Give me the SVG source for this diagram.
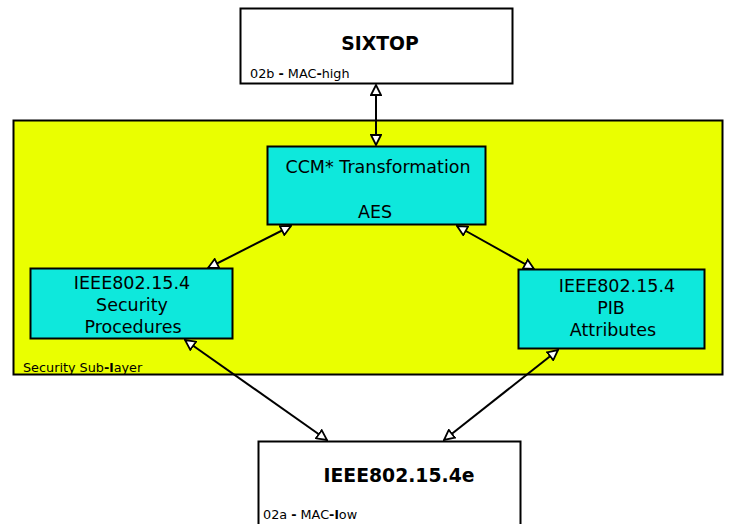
<svg xmlns="http://www.w3.org/2000/svg" width="729" height="524" viewBox="0 0 729 524">
<style>
text{font-family:"DejaVu Sans",sans-serif;fill:#000}
.box{stroke:#000;stroke-width:2}
.white{fill:#fff}
.cyan{fill:#0ee8dc}
.lbl{font-size:17.5px;text-anchor:middle}
.title{font-size:18.8px;font-weight:bold;text-anchor:middle}
.small{font-size:12.8px}
.conn line{stroke:#000;stroke-width:2;marker-start:url(#tri);marker-end:url(#tri)}
</style>
<defs>
<marker id="tri" viewBox="0 0 12 12" refX="11" refY="6" markerWidth="12" markerHeight="12" markerUnits="userSpaceOnUse" orient="auto-start-reverse">
<path d="M1,1 L11,6 L1,11 Z" fill="#fff" stroke="#000" stroke-width="1.8" stroke-linejoin="miter"/>
</marker>
</defs>
<g id="sublayer">
<rect x="13.5" y="120.5" width="709" height="254" fill="#eaff00" class="box"/>
<text x="23" y="372" class="small">Security Sub<tspan font-weight="bold">-l</tspan>ayer</text>
</g>
<g id="sixtop">
<rect x="240.5" y="8.5" width="272" height="75" class="box white"/>
<text x="380" y="50" class="title">SIXTOP</text>
<text x="250" y="78" class="small">02b <tspan font-weight="bold">-</tspan> MAC<tspan font-weight="bold">-</tspan>high</text>
</g>
<g id="ccm">
<rect x="267.5" y="146.5" width="218" height="78" class="box cyan"/>
<text x="378" y="173" class="lbl">CCM* Transformation</text>
<text x="375" y="218" class="lbl">AES</text>
</g>
<g id="secproc">
<rect x="30.5" y="268.5" width="202" height="70" class="box cyan"/>
<text x="132" y="289" class="lbl">IEEE802.15.4</text>
<text x="132" y="311" class="lbl">Security</text>
<text x="133" y="333" class="lbl">Procedures</text>
</g>
<g id="pib">
<rect x="518.5" y="269.5" width="186" height="79" class="box cyan"/>
<text x="617" y="292" class="lbl">IEEE802.15.4</text>
<text x="611" y="314" class="lbl">PIB</text>
<text x="613" y="336" class="lbl">Attributes</text>
</g>
<g id="mac">
<rect x="258.5" y="441.5" width="262" height="84" class="box white"/>
<text x="399" y="482" class="title">IEEE802.15.4e</text>
<text x="263" y="519" class="small">02a <tspan font-weight="bold">-</tspan> MAC<tspan font-weight="bold">-l</tspan>ow</text>
</g>
<g id="connectors" class="conn">
<line x1="376" y1="85" x2="376" y2="145"/>
<line x1="291" y1="226" x2="208" y2="268"/>
<line x1="457" y1="226" x2="534" y2="269"/>
<line x1="185" y1="340" x2="327" y2="440"/>
<line x1="558" y1="350" x2="444" y2="440"/>
</g>
</svg>
